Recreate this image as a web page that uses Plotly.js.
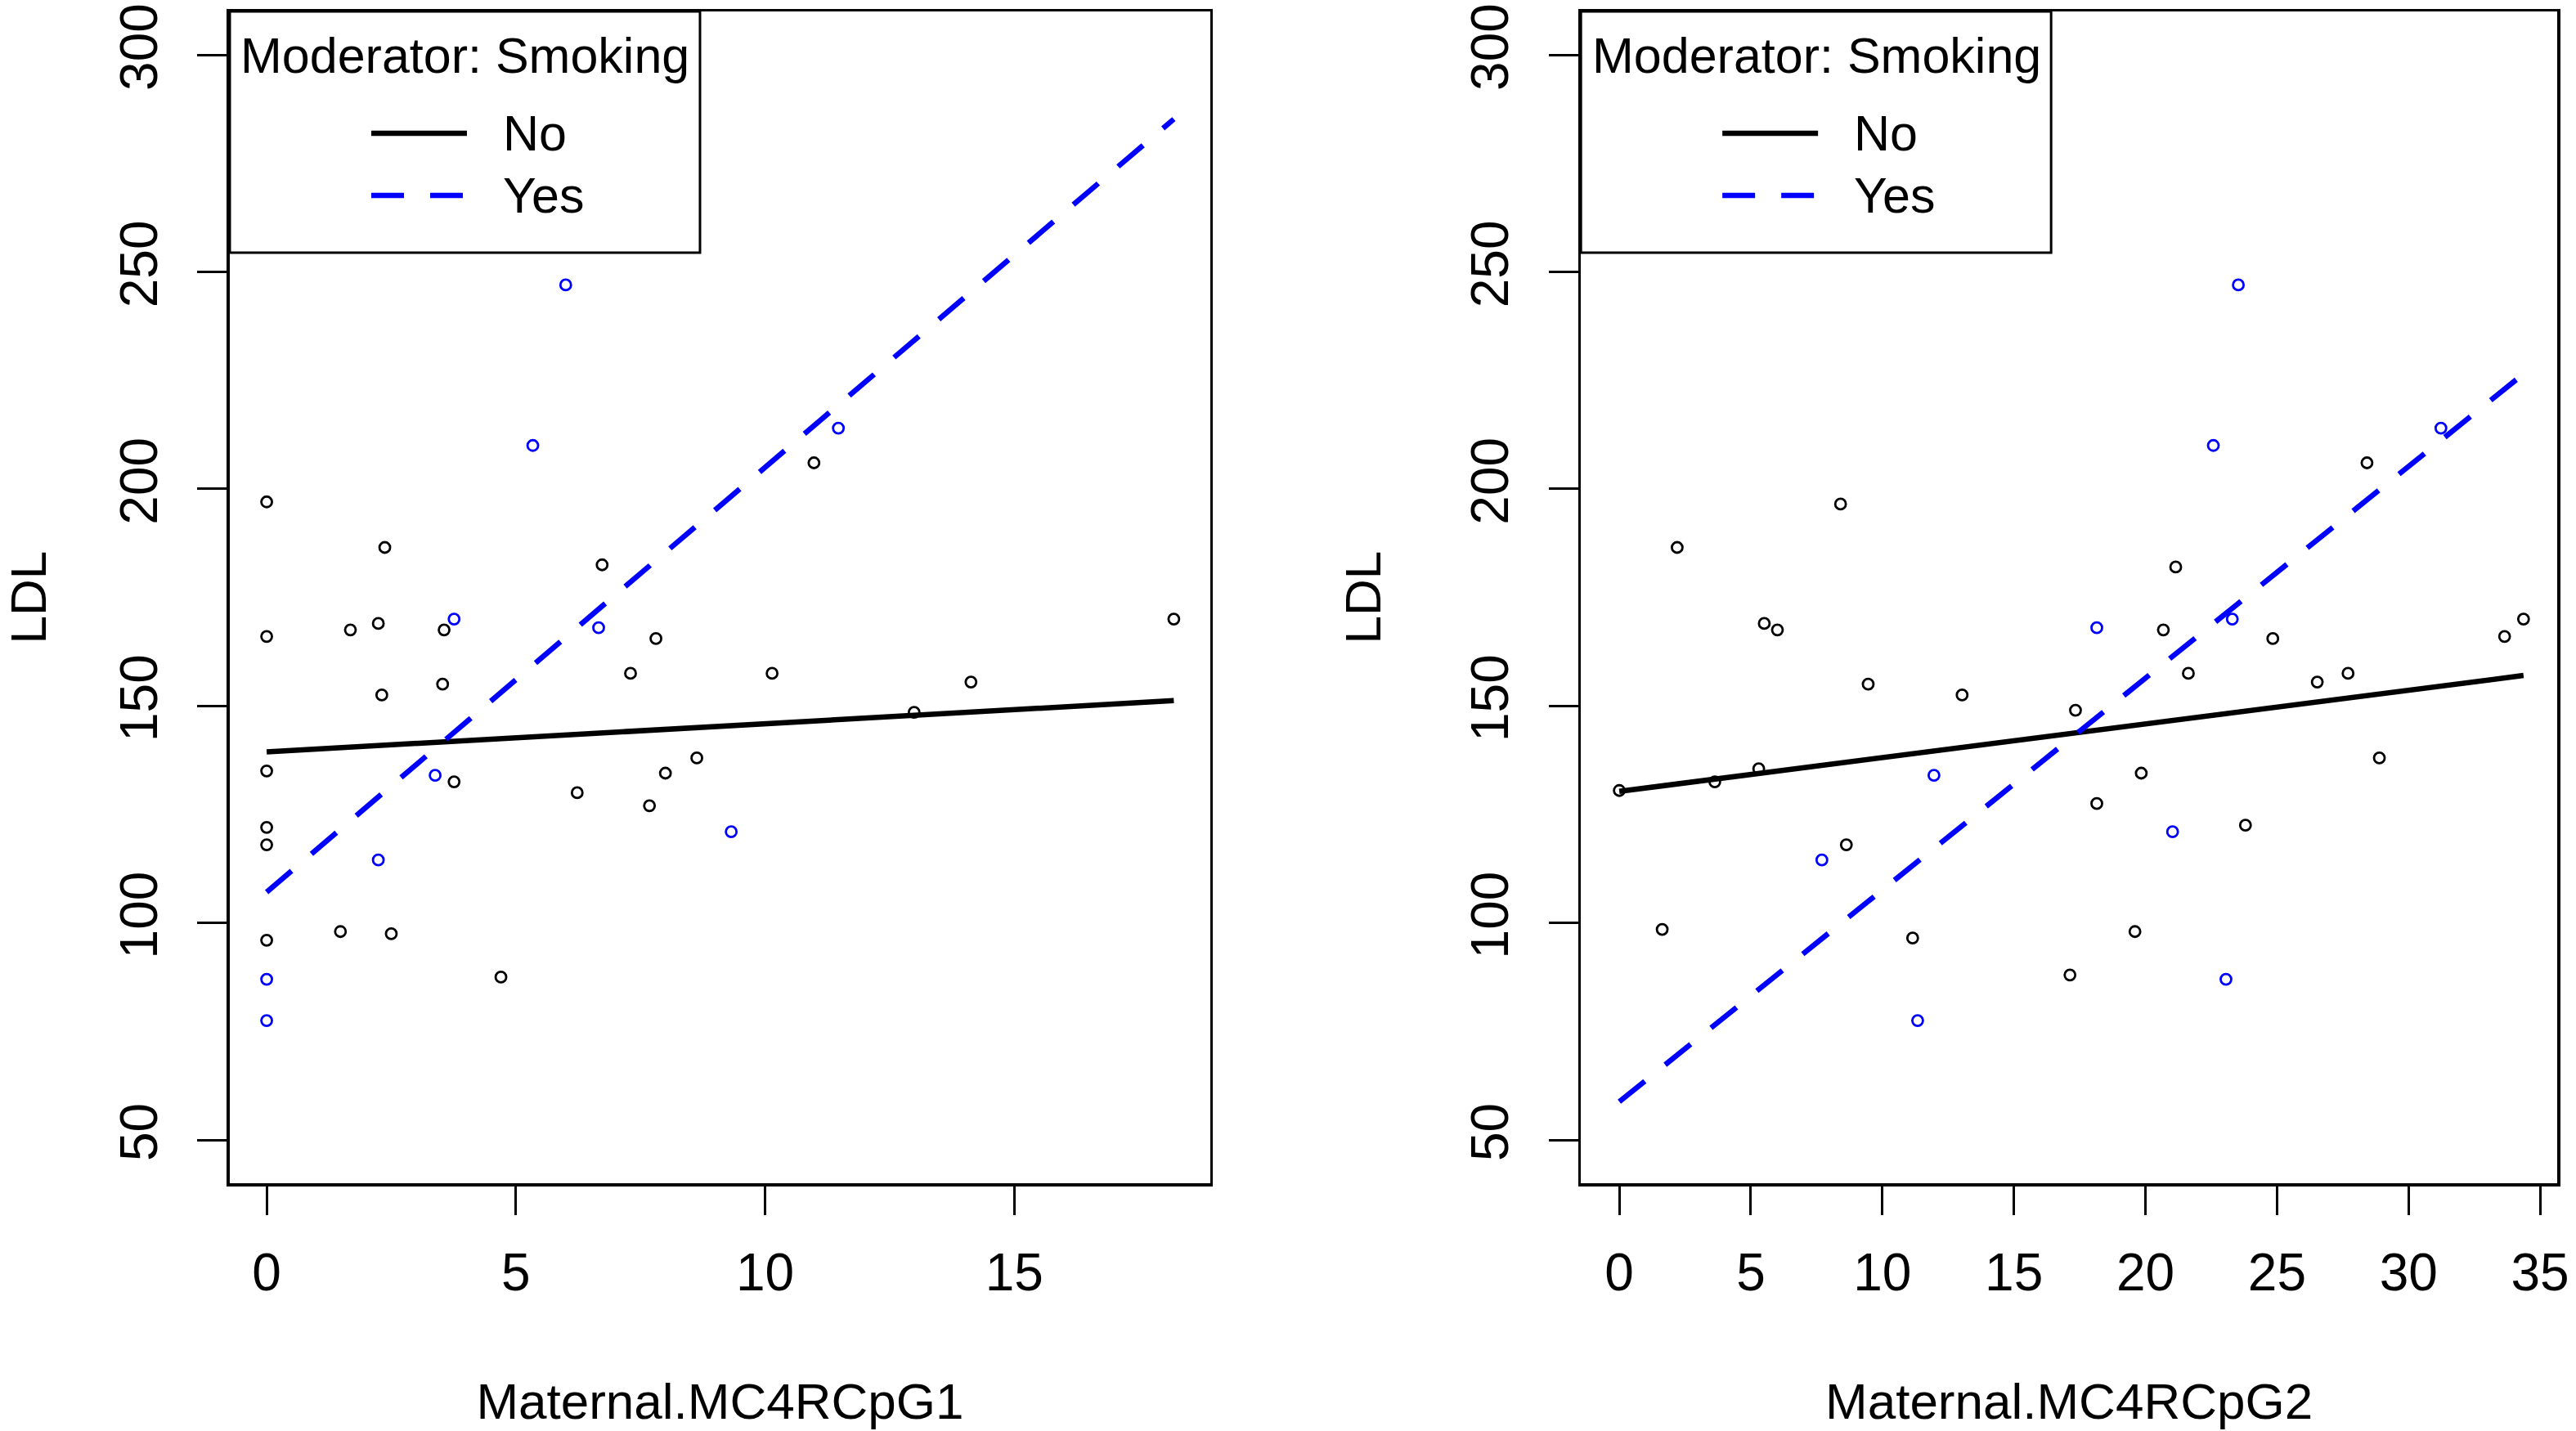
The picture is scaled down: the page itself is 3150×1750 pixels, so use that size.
<!DOCTYPE html>
<html>
<head>
<meta charset="utf-8">
<script src="https://cdn.plot.ly/plotly-3.0.1.min.js"></script>
<style>
  html, body { margin: 0; padding: 0; background: #fff; }
  #chart { width: 3150px; height: 1750px; }
</style>
</head>
<body>
<div id="chart"></div>
<script>
"use strict";

// ----------------------------
// Data (LDL vs maternal MC4R CpG methylation)
// ----------------------------
const SMOKING = ["No", "Yes"];

// panel 1: Maternal.MC4RCpG1
const cpg1NoX = [0, 0, 0, 0, 0, 0, 1.48, 2.5, 1.68, 2.24, 2.37, 2.31, 3.56, 3.53, 3.76, 4.7, 6.23, 6.73, 7.3, 7.81, 7.68, 8.0, 8.63, 10.14, 10.98, 12.99, 14.13, 18.2];
const cpg1NoY = [197, 166, 135, 122, 118, 96, 98, 97.5, 167.5, 169, 186.5, 152.5, 167.5, 155, 132.5, 87.5, 130, 182.5, 157.5, 165.5, 127, 134.5, 138, 157.5, 206, 148.5, 155.5, 170];
const cpg1YesX = [0, 0, 2.24, 3.38, 3.76, 5.34, 6.0, 6.66, 9.32, 11.47];
const cpg1YesY = [87, 77.5, 114.5, 134, 170, 210, 247, 168, 121, 214];

// simple slopes (fitted lines) for panel 1
const cpg1FitX = [0, 18.2];
const cpg1FitNo = [139.4, 151.2];
const cpg1FitYes = [107.1, 285.2];

// panel 2: Maternal.MC4RCpG2
const cpg2NoX = [0, 1.63, 2.2, 3.63, 5.3, 5.51, 6.01, 8.41, 8.63, 9.46, 11.15, 13.03, 17.13, 17.34, 18.15, 19.6, 19.84, 20.68, 21.15, 21.63, 23.8, 24.84, 26.53, 27.7, 28.42, 28.89, 33.65, 34.37];
const cpg2NoY = [130.5, 98.5, 186.5, 132.5, 135.5, 169, 167.5, 196.5, 118, 155, 96.5, 152.5, 88, 149, 127.5, 98, 134.5, 167.5, 182, 157.5, 122.5, 165.5, 155.5, 157.5, 206, 138, 166, 170];
const cpg2YesX = [23.53, 22.58, 31.23, 18.15, 23.3, 11.96, 7.7, 21.03, 23.06, 11.34];
const cpg2YesY = [247, 210, 214, 168, 170, 134, 114.5, 121, 87, 77.5];

const cpg2FitX = [0, 34.37];
const cpg2FitNo = [130.3, 157.0];
const cpg2FitYes = [58.8, 226.5];

const X_TITLES = ["Maternal.MC4RCpG1", "Maternal.MC4RCpG2"];
const Y_TITLE = "LDL";
const LEGEND_TITLE = "Moderator: Smoking";

const Y_TICKS = [50, 100, 150, 200, 250, 300];
const X1_TICKS = [0, 5, 10, 15];
const X2_TICKS = [0, 5, 10, 15, 20, 25, 30, 35];

// ----------------------------
// styles
// ----------------------------
const W = 3150, H = 1750;
const FONT = "'Liberation Sans', Arial, Helvetica, sans-serif";
const COLORS = { No: "#000000", Yes: "#0000ff" };
const DASH = { No: "solid", Yes: "40px,32px" };
const LINE_W = 6.5;

const Y_DOMAIN = [0.1731, 0.992];
const X1_DOMAIN = [0.0892, 0.4698];
const X2_DOMAIN = [0.6137, 0.9927];

function pointsTrace(x, y, level, xa, ya) {
  return {
    x: x, y: y, xaxis: xa, yaxis: ya,
    type: "scatter", mode: "markers", showlegend: false, hoverinfo: "skip",
    marker: { symbol: "circle-open", size: 13, color: COLORS[level], line: { width: 2.8, color: COLORS[level] } },
  };
}

function fitTrace(x, y, level, xa, ya) {
  return {
    x: x, y: y, xaxis: xa, yaxis: ya,
    type: "scatter", mode: "lines", name: level, showlegend: false, hoverinfo: "skip",
    line: { color: COLORS[level], width: LINE_W, dash: DASH[level] },
  };
}

const data = [
  pointsTrace(cpg1NoX, cpg1NoY, SMOKING[0], "x", "y"),
  pointsTrace(cpg1YesX, cpg1YesY, SMOKING[1], "x", "y"),
  fitTrace(cpg1FitX, cpg1FitNo, SMOKING[0], "x", "y"),
  fitTrace(cpg1FitX, cpg1FitYes, SMOKING[1], "x", "y"),
  pointsTrace(cpg2NoX, cpg2NoY, SMOKING[0], "x2", "y2"),
  pointsTrace(cpg2YesX, cpg2YesY, SMOKING[1], "x2", "y2"),
  fitTrace(cpg2FitX, cpg2FitNo, SMOKING[0], "x2", "y2"),
  fitTrace(cpg2FitX, cpg2FitYes, SMOKING[1], "x2", "y2"),
];

function xAxis(domain, range, ticks, title, anchor) {
  return {
    domain: domain, range: range, anchor: anchor, tickmode: "array", tickvals: ticks,
    ticks: "outside", ticklen: 35, tickwidth: 3, tickcolor: "#000",
    ticklabelstandoff: 16,
    showgrid: false, zeroline: false, showline: true, mirror: true, linewidth: 3.5, linecolor: "#000",
    tickfont: { family: FONT, size: 64, color: "#000" },
    title: { text: title, font: { family: FONT, size: 62, color: "#000" }, standoff: 101 },
  };
}

function yAxis(anchor) {
  return {
    domain: Y_DOMAIN, range: [40, 310], anchor: anchor, tickmode: "array", tickvals: Y_TICKS,
    ticks: "outside", ticklen: 36, tickwidth: 3, tickcolor: "#000", tickangle: -90,
    ticklabelstandoff: 24,
    showgrid: false, zeroline: false, showline: true, mirror: true, linewidth: 3.5, linecolor: "#000",
    tickfont: { family: FONT, size: 64, color: "#000" },
    title: { text: Y_TITLE, font: { family: FONT, size: 62, color: "#000" }, standoff: 78 },
  };
}

// R-style legend box in the top-left corner of a panel.
// Offsets are in pixels from the panel's top-left corner.
function legendParts(xa, ya, xDomain) {
  const pw = (xDomain[1] - xDomain[0]) * W;
  const ph = (Y_DOMAIN[1] - Y_DOMAIN[0]) * H;
  const fx = (px) => px / pw;
  const fy = (py) => 1 - py / ph;
  const xr = xa + " domain", yr = ya + " domain";
  const font = { family: FONT, size: 61, color: "#000" };

  const shapes = [
    { type: "rect", xref: xr, yref: yr, x0: 0, x1: fx(575), y0: fy(295), y1: 1,
      fillcolor: "#fff", line: { color: "#000", width: 3 }, layer: "above" },
  ];
  const annotations = [
    { xref: xr, yref: yr, x: fx(288), y: fy(54), text: LEGEND_TITLE, showarrow: false,
      xanchor: "center", yanchor: "middle", font: font },
  ];
  SMOKING.forEach((level, i) => {
    const rowY = fy(149 + i * 76);
    shapes.push({ type: "line", xref: xr, yref: yr, x0: fx(173), x1: fx(290), y0: rowY, y1: rowY,
      line: { color: COLORS[level], width: LINE_W, dash: DASH[level] }, layer: "above" });
    annotations.push({ xref: xr, yref: yr, x: fx(332), y: rowY, text: level, showarrow: false,
      xanchor: "left", yanchor: "middle", font: font });
  });
  return { shapes, annotations };
}

const leg1 = legendParts("x", "y", X1_DOMAIN);
const leg2 = legendParts("x2", "y2", X2_DOMAIN);

const layout = {
  width: W, height: H,
  margin: { l: 0, r: 0, t: 0, b: 0 },
  paper_bgcolor: "#fff", plot_bgcolor: "#fff",
  font: { family: FONT, color: "#000" },
  showlegend: false,
  xaxis: xAxis(X1_DOMAIN, [-0.74, 18.93], X1_TICKS, X_TITLES[0], "y"),
  yaxis: yAxis("x"),
  xaxis2: xAxis(X2_DOMAIN, [-1.46, 35.65], X2_TICKS, X_TITLES[1], "y2"),
  yaxis2: yAxis("x2"),
  shapes: leg1.shapes.concat(leg2.shapes),
  annotations: leg1.annotations.concat(leg2.annotations),
};

Plotly.newPlot("chart", data, layout, { staticPlot: true });
</script>
</body>
</html>
